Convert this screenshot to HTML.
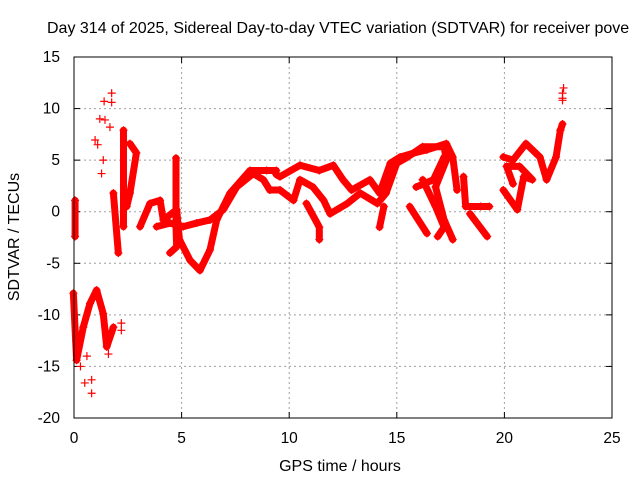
<!DOCTYPE html>
<html><head><meta charset="utf-8"><style>
body{margin:0;background:#fff;width:640px;height:480px;overflow:hidden}
svg{display:block;font-family:"Liberation Sans",Arial,sans-serif}
</style></head><body>
<svg id="chart" width="640" height="480">
<rect width="640" height="480" fill="#fff"/>
<text x="47" y="33" font-size="16" fill="#000">Day 314 of 2025, Sidereal Day-to-day VTEC variation (SDTVAR) for receiver pove</text>
<g id="grid"></g><g id="ticks"></g><g id="marks"></g>
<rect x="74" y="57" width="538" height="361" fill="none" stroke="#000" stroke-width="1"/>
<text x="340" y="471" font-size="16" text-anchor="middle">GPS time / hours</text>
<text transform="translate(19,237) rotate(-90)" font-size="16" text-anchor="middle">SDTVAR / TECUs</text>
</svg>
<script>
const xTicks=[0,5,10,15,20,25];
const yTicks=[15,10,5,0,-5,-10,-15,-20];
// tracks: arrays of [hour, TECU]
const trackA=[[3.07,-1.45],[3.53,0.8],[4.0,1.1],[4.15,-0.8],[4.77,0.2],[4.9,-2.7],[5.39,-4.7],[5.85,-5.7],[6.32,-3.7],[6.63,-0.8],[7.25,1.8],[8.18,4.0],[8.95,4.0],[9.4,4.0]];
const trackB=[[3.84,-1.45],[4.46,-1.1],[5.08,-1.45],[5.7,-1.1],[6.32,-0.8],[6.94,0.2],[7.56,2.4],[8.33,3.7],[8.8,3.1],[9.1,2.1],[9.57,2.1]];
const trackC=[[4.74,5.2],[4.74,-1.45],[4.77,-3.4],[4.46,-4.0]];
const trackU=[[9.4,3.6],[9.57,3.4],[10.5,4.5],[11.4,4.0],[12.05,4.5],[12.5,3.1],[12.9,2.1],[13.75,3.1],[14.2,1.8],[14.7,4.7],[15.15,5.3],[15.8,5.7],[16.4,6.0],[17.3,6.6],[17.6,5.3],[17.8,2.1]];
const trackL=[[9.1,2.1],[9.57,2.1],[10.2,1.1],[10.5,3.1],[11.1,2.4],[11.6,1.1],[11.9,-0.2],[12.7,0.8],[13.3,1.8],[14.1,0.8],[14.5,1.8],[15.0,4.7],[15.5,5.3],[16.2,6.3],[17.2,6.3],[17.3,5.0],[16.8,2.4],[17.2,-0.8],[17.6,-2.7]];
const trackD=[[10.8,0.8],[11.4,-1.5],[11.4,-2.7]];
const trackE=[[15.9,2.4],[16.7,3.1],[17.2,5.3]];
const trackF=[[16.2,3.1],[16.8,0.5],[17.2,-1.5],[16.9,-2.4]];
const trackG=[[18.1,3.4],[18.2,0.5],[18.9,0.5],[19.3,0.5]];
const trackH=[[18.4,-0.2],[19.2,-2.4]];
const trackI=[[15.6,0.5],[16.4,-2.1]];
const trackJ=[[14.4,0.5],[14.2,-1.5]];
const trackK=[[19.95,5.3],[20.4,5.0],[21.0,6.6],[21.65,5.3],[21.96,3.1],[22.4,5.3],[22.6,7.9]];
const trackM=[[19.95,2.1],[20.6,0.2],[20.9,3.4],[21.3,3.1],[20.7,4.4],[20.1,4.4],[20.4,2.7]];
const trackN=[[22.6,7.9],[22.7,8.5]];
const trackP=[[0.05,1.1],[0.05,-2.4]];
const trackQ=[[-0.03,-7.9],[0.12,-14.4],[0.43,-11.2],[0.74,-8.9],[1.05,-7.6],[1.36,-9.9],[1.52,-13.1],[1.83,-11.2]];
const trackR=[[1.83,1.8],[2.06,-4.0]];
const trackS=[[2.3,7.9],[2.3,-1.45]];
const trackT=[[2.6,6.6],[2.9,5.7],[2.6,1.8],[2.45,0.5]];
const scatterPts=[[0.5,-16.6],[0.82,-17.6],[0.82,-16.3],[0.98,6.95],[1.36,5.0],[1.44,8.9],[1.75,11.5],[1.67,8.2],[1.28,3.7],[1.4,10.7],[1.75,10.6],[1.2,9.0],[1.1,6.5],[0.1,-12.5],[0.3,-15.0],[0.6,-14.0],[1.6,-13.8],[2.2,-11.5],[2.2,-10.8],[22.7,11.5],[22.75,12.0],[22.7,10.8],[22.7,11.0]];
const tracks=[trackA,trackB,trackC,trackU,trackL,trackD,trackE,trackF,trackG,trackH,trackI,trackJ,trackK,trackM,trackN,trackP,trackQ,trackR,trackS,trackT];
const X0=74,X1=612,Y0=418,Y1=57,XMIN=0,XMAX=25,YMIN=-20,YMAX=15;
function sx(v){return X0+(v-XMIN)/(XMAX-XMIN)*(X1-X0);}
function sy(v){return Y0-(v-YMIN)/(YMAX-YMIN)*(Y0-Y1);}
const NS="http://www.w3.org/2000/svg";
function mk(t,a,p){const e=document.createElementNS(NS,t);for(const k in a)e.setAttribute(k,a[k]);p.appendChild(e);return e;}
const grid=document.getElementById('grid'),ticks=document.getElementById('ticks'),marks=document.getElementById('marks');
xTicks.forEach(v=>{const x=sx(v);
 if(v>XMIN&&v<XMAX){const g=mk('line',{x1:x,x2:x,y1:Y1,y2:Y0,stroke:'#a0a0a0','stroke-dasharray':'2,3'},grid);
 
 }
 mk('line',{x1:x,x2:x,y1:Y0,y2:Y0-6,stroke:'#000'},ticks);mk('line',{x1:x,x2:x,y1:Y1,y2:Y1+6,stroke:'#000'},ticks);
 const t=mk('text',{x:x,y:443,'font-size':'15.5','text-anchor':'middle'},ticks);t.textContent=v;
 
 });
yTicks.forEach(v=>{const y=sy(v);
 if(v>YMIN&&v<YMAX){const g=mk('line',{x1:X0,x2:X1,y1:y,y2:y,stroke:'#a0a0a0','stroke-dasharray':'2,3'},grid);
 
 }
 mk('line',{x1:X0,x2:X0+6,y1:y,y2:y,stroke:'#000'},ticks);mk('line',{x1:X1,x2:X1-6,y1:y,y2:y,stroke:'#000'},ticks);
 const t=mk('text',{x:60,y:y+5,'font-size':'15.5','text-anchor':'end'},ticks);t.textContent=v;
 
 });
function plus(x,y){const p=mk('path',{d:`M${x-4},${y}h8M${x},${y-4}v8`,stroke:'#f00','stroke-width':'1.2'},marks);
 
 }
tracks.forEach(tr=>{const pl=mk('polyline',{points:tr.map(p=>sx(p[0])+','+sy(p[1])).join(' '),fill:'none',stroke:'#f00','stroke-width':'7','stroke-linejoin':'round','stroke-linecap':'round'},marks);
 
 
 tr.forEach(p=>plus(sx(p[0]),sy(p[1])));});
scatterPts.forEach(p=>plus(sx(p[0]),sy(p[1])));
</script>
</body></html>
